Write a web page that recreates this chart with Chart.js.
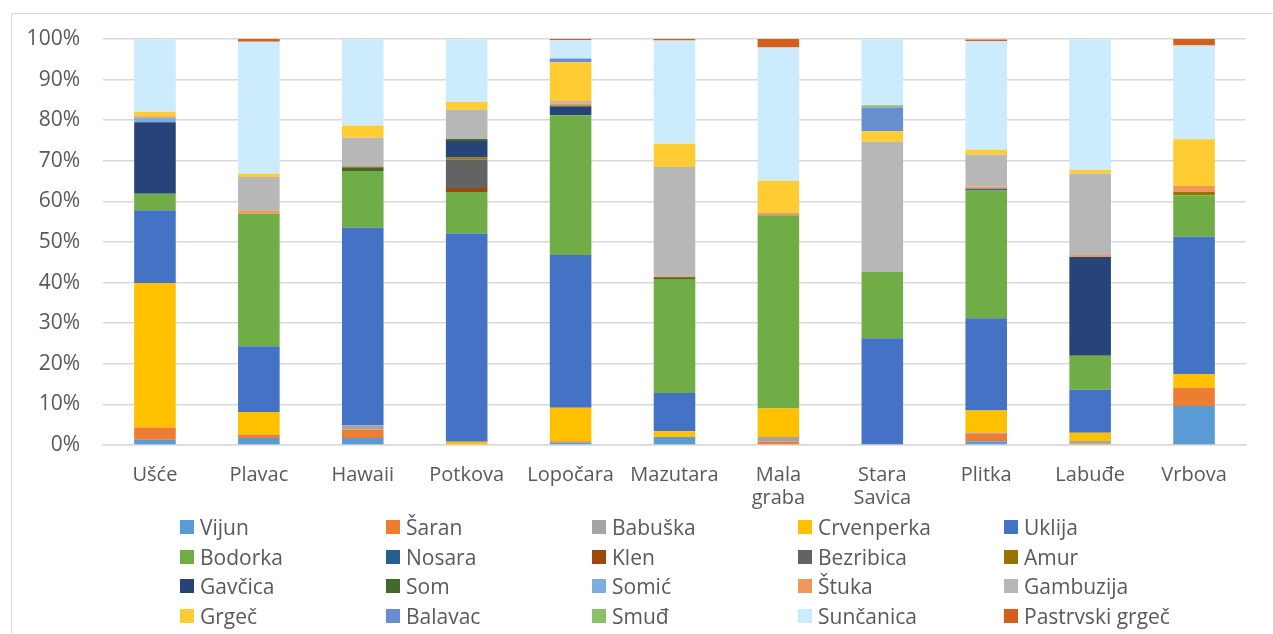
<!DOCTYPE html>
<html>
<head>
<meta charset="utf-8">
<script src="https://cdn.jsdelivr.net/npm/chart.js@4.4.1/dist/chart.umd.min.js"></script>
<style>
  html, body { margin: 0; padding: 0; background: #fff; }
  #wrap { position: relative; width: 1273px; height: 634px; overflow: hidden; }
  #frame {
    position: absolute; left: 11px; top: 13px; width: 1300px; height: 700px;
    border: 1.5px solid #d9d9d9; box-sizing: border-box;
  }
  #chart { position: absolute; left: 0; top: 0; }
  #legend {
    position: absolute; left: 180px; top: 512px;
    display: grid; grid-template-columns: repeat(5, 206px); grid-auto-rows: 29.7px;
    font-family: "Open Sans", "Noto Sans", sans-serif; font-size: 21px; color: #595959;
  }
  .item { display: flex; align-items: center; white-space: nowrap; }
  .box { width: 14px; height: 14px; margin-right: 6px; flex: none; }
</style>
</head>
<body>
<div id="wrap">
  <div id="frame"></div>
  <canvas id="chart" width="1273" height="634"></canvas>
  <div id="legend"></div>
</div>
<script>
// categories = sampling sites, one array per species (% share at each site)
const sites = ["Ušće", "Plavac", "Hawaii", "Potkova", "Lopočara", "Mazutara",
  ["Mala", "graba"], ["Stara", "Savica"], "Plitka", "Labuđe", "Vrbova"];

const vijun      = [1.3, 1.7, 1.7, 0, 0.6, 2.0, 0, 0, 0.9, 0, 9.6];
const saran      = [3.0, 0.9, 2.1, 0.2, 0.3, 0, 0.8, 0, 2.0, 0.3, 4.5];
const babuska    = [0, 0, 1.0, 0, 0, 0, 1.2, 0.2, 0.2, 0.7, 0];
const crvenperka = [35.6, 5.5, 0, 0.6, 8.3, 1.4, 7.0, 0, 5.4, 2.0, 3.4];
const uklija     = [17.9, 16.2, 48.7, 51.3, 37.6, 9.4, 0, 26.1, 22.7, 10.6, 33.8];
const bodorka    = [4.1, 32.7, 14.0, 10.2, 34.4, 28.1, 47.6, 16.3, 31.5, 8.4, 10.2];
const nosara     = [0, 0, 0, 0, 0, 0, 0, 0, 0.4, 0, 0];
const klen       = [0, 0, 0, 1.0, 0, 0, 0, 0, 0, 0, 0];
const bezribica  = [0, 0, 0, 7.0, 0, 0, 0, 0, 0, 0, 0];
const amur       = [0, 0, 0, 0.6, 0, 0, 0, 0, 0, 0, 0.8];
const gavcica    = [17.6, 0, 0, 4.0, 2.1, 0, 0, 0, 0, 24.3, 0];
const som        = [0, 0, 0.9, 0.5, 0.3, 0.4, 0, 0, 0, 0, 0];
const somic      = [1.1, 0, 0, 0, 0, 0, 0, 0, 0, 0, 0];
const stuka      = [0.4, 0.8, 0.3, 0, 0.6, 0.4, 0.6, 0, 0.6, 0.5, 1.5];
const gambuzija  = [0, 8.2, 7.0, 7.2, 0.5, 26.8, 0, 32.1, 7.8, 20.1, 0];
const grgec      = [1.1, 0.8, 3.0, 1.9, 9.6, 5.7, 7.9, 2.6, 1.2, 0.9, 11.5];
const balavac    = [0, 0, 0, 0, 0.9, 0, 0, 5.8, 0, 0, 0];
const smudj      = [0, 0, 0, 0, 0, 0, 0, 0.6, 0, 0, 0];
const suncanica  = [17.9, 32.5, 21.3, 15.5, 4.5, 25.4, 32.8, 16.3, 26.8, 32.2, 23.1];
const pastrvski  = [0, 0.7, 0, 0, 0.4, 0.4, 2.1, 0, 0.4, 0, 1.6];

const yTicks = [0, 10, 20, 30, 40, 50, 60, 70, 80, 90, 100];

const series = [
  ["Vijun", vijun, "#5B9BD5"],
  ["Šaran", saran, "#ED7D31"],
  ["Babuška", babuska, "#A5A5A5"],
  ["Crvenperka", crvenperka, "#FFC000"],
  ["Uklija", uklija, "#4472C4"],
  ["Bodorka", bodorka, "#70AD47"],
  ["Nosara", nosara, "#255E91"],
  ["Klen", klen, "#9E480E"],
  ["Bezribica", bezribica, "#636363"],
  ["Amur", amur, "#997300"],
  ["Gavčica", gavcica, "#264478"],
  ["Som", som, "#43682B"],
  ["Somić", somic, "#7CAFDD"],
  ["Štuka", stuka, "#F1975A"],
  ["Gambuzija", gambuzija, "#B7B7B7"],
  ["Grgeč", grgec, "#FFCD33"],
  ["Balavac", balavac, "#698ED0"],
  ["Smuđ", smudj, "#8CC168"],
  ["Sunčanica", suncanica, "#CCEBFD"],
  ["Pastrvski grgeč", pastrvski, "#D2601A"],
];

const family = "'Open Sans', 'Noto Sans', sans-serif";
const textColor = "#595959";

const chart = new Chart(document.getElementById("chart").getContext("2d"), {
  type: "bar",
  data: {
    labels: sites,
    datasets: series.map(([label, data, color]) => ({
      label, data, backgroundColor: color, borderWidth: 0,
      categoryPercentage: 0.8, barPercentage: 0.5,
    })),
  },
  options: {
    responsive: false,
    animation: false,
    layout: { padding: { top: 39, right: 27, left: 0, bottom: 0 } },
    plugins: { legend: { display: false }, tooltip: { enabled: false } },
    scales: {
      x: {
        stacked: true,
        grid: { display: false },
        border: { color: "#d9d9d9", width: 1.5 },
        ticks: { color: textColor, font: { family, size: 20, lineHeight: 1.15 }, padding: 11, maxRotation: 0, autoSkip: false },
        afterFit: s => { s.height = 189; },
      },
      y: {
        stacked: true,
        min: 0, max: 100,
        afterBuildTicks: s => { s.ticks = yTicks.map(v => ({ value: v })); },
        grid: { color: "#d9d9d9", lineWidth: 1.5, drawTicks: false },
        border: { display: false },
        ticks: { color: textColor, font: { family, size: 21 }, padding: 23, callback: v => v + "%" },
        afterFit: s => { s.width = 103; },
      },
    },
  },
});

// html legend in a fixed 5-column grid, taken from the chart datasets
const legendEl = document.getElementById("legend");
chart.data.datasets.forEach(ds => {
  const item = document.createElement("div");
  item.className = "item";
  item.innerHTML = `<span class="box" style="background:${ds.backgroundColor}"></span>${ds.label}`;
  legendEl.appendChild(item);
});
</script>
</body>
</html>
